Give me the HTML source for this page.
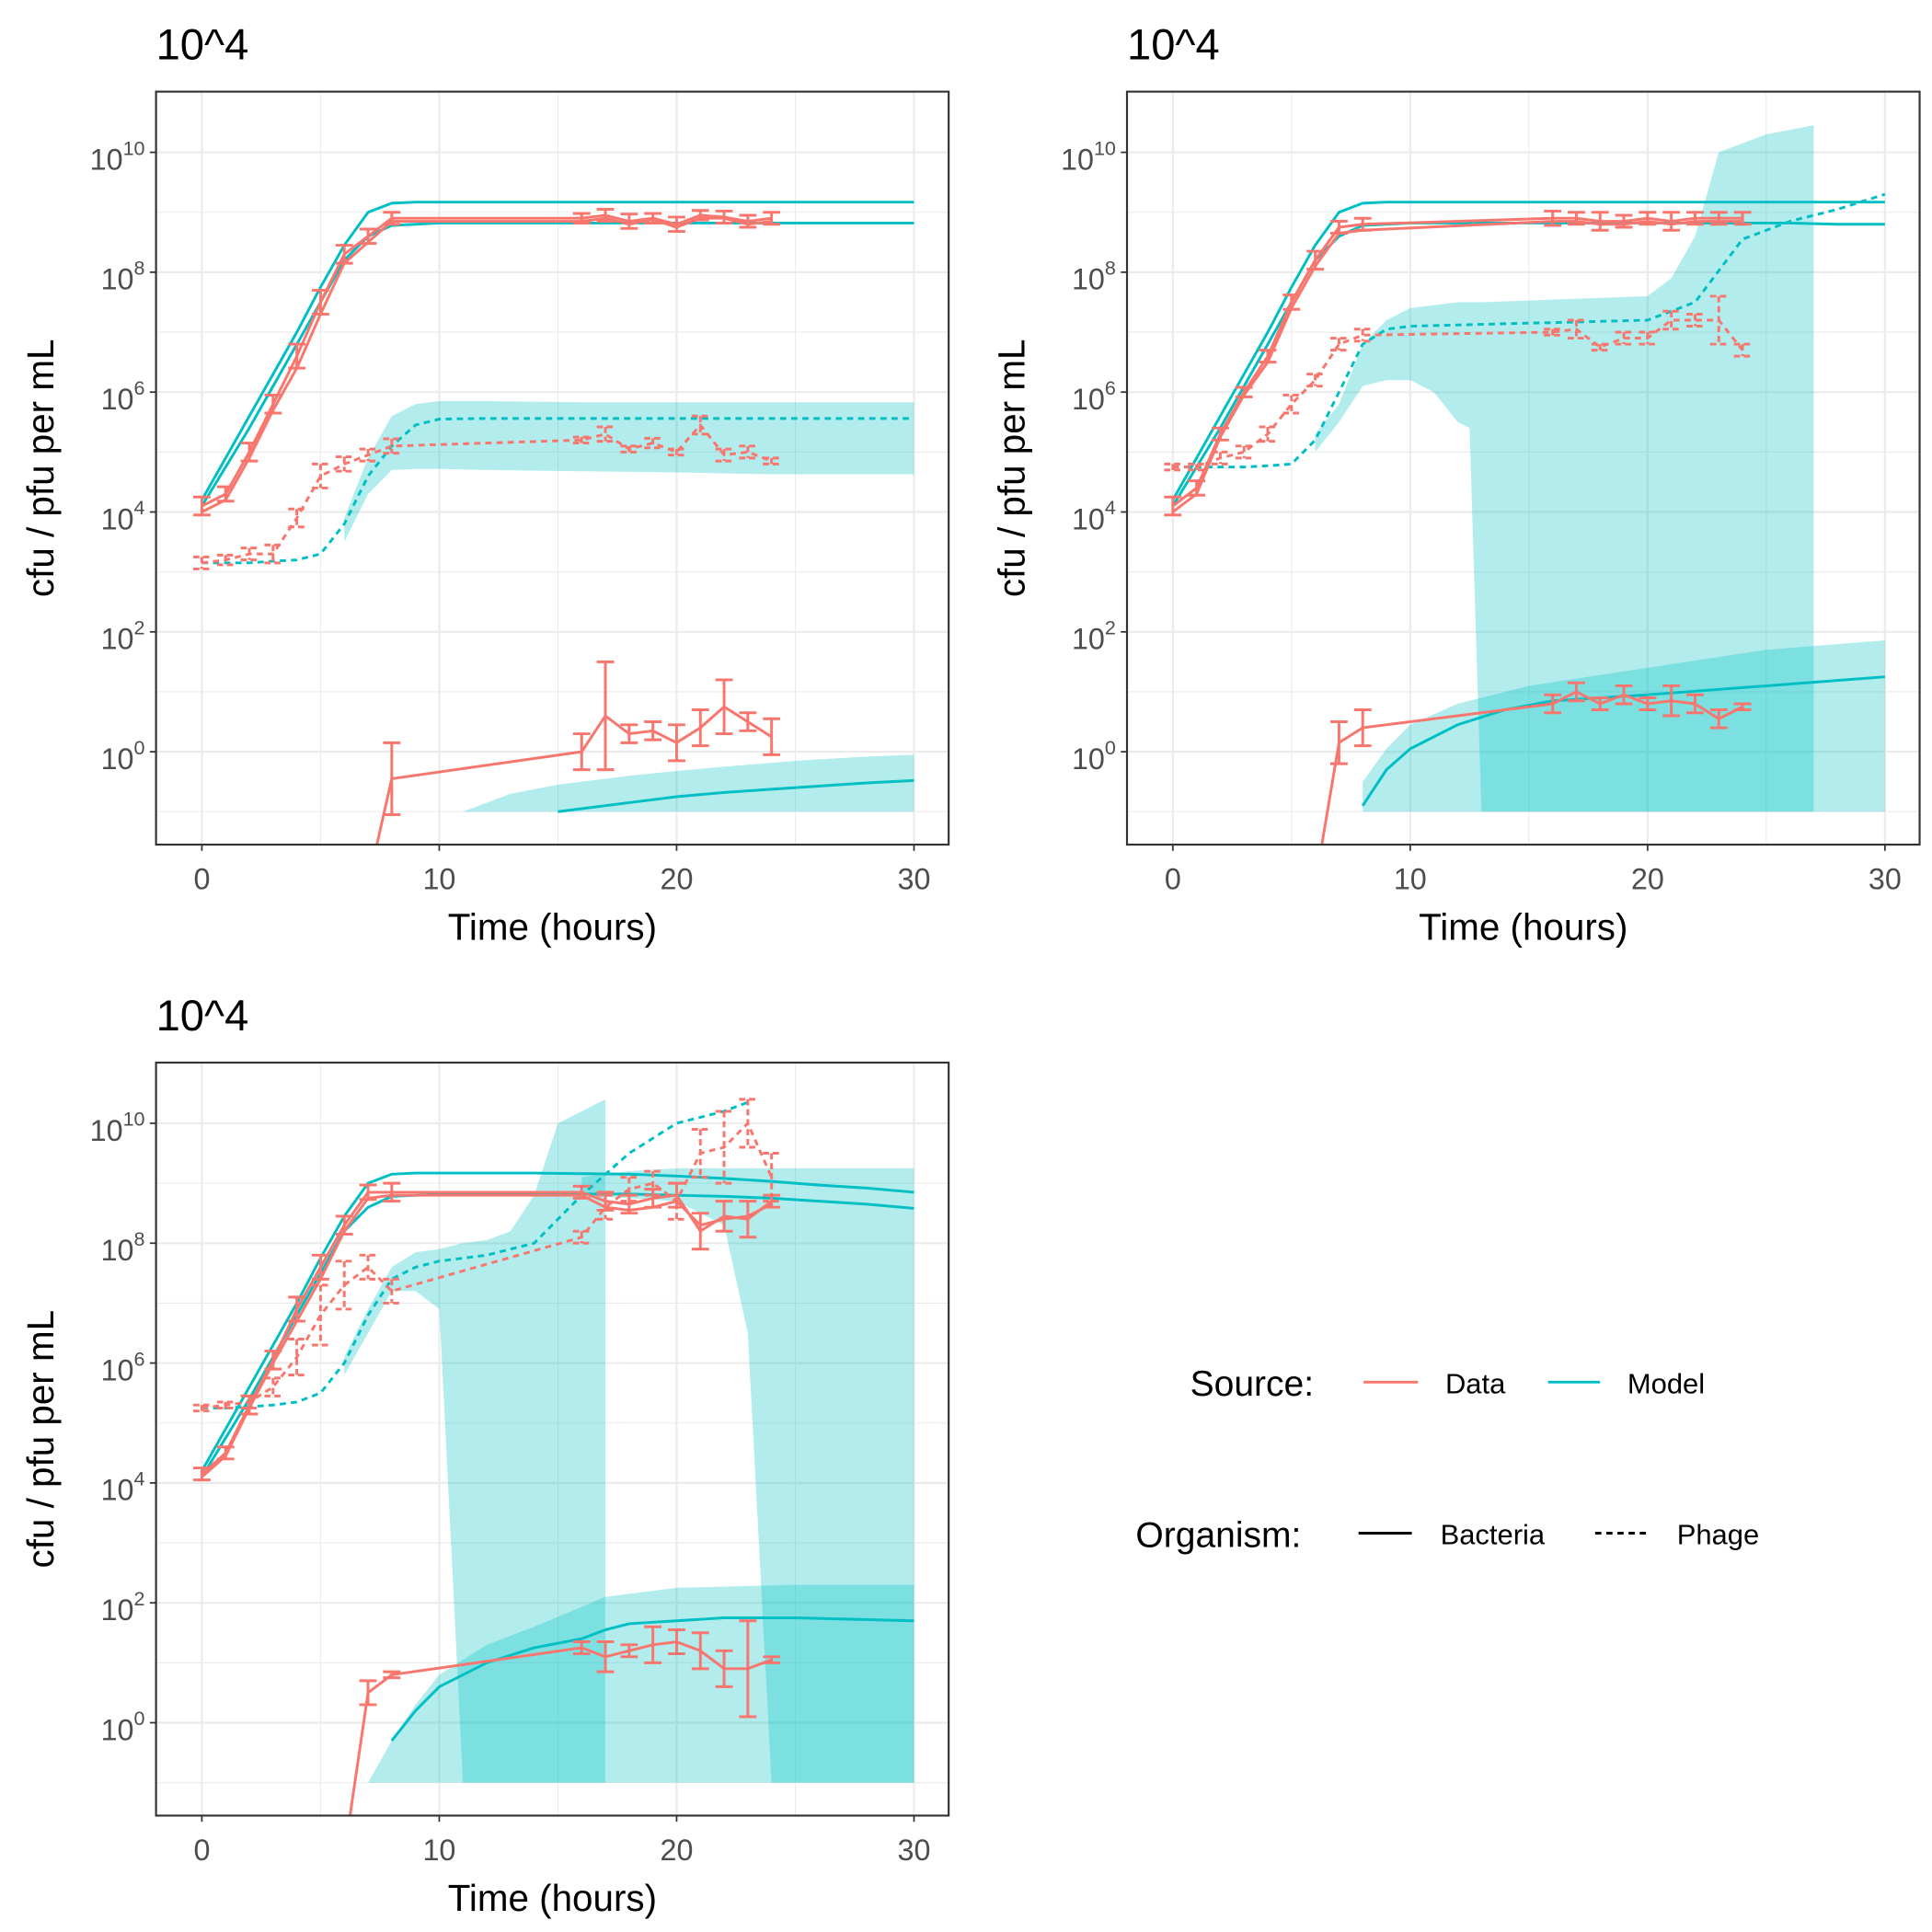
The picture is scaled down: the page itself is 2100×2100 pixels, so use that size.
<!DOCTYPE html>
<html><head><meta charset="utf-8">
<style>
html,body{margin:0;padding:0;background:#fff;}
svg{display:block;font-family:"Liberation Sans",Arial,sans-serif;}
</style></head>
<body>
<svg id="chart" width="2100" height="2100" viewBox="0 0 1560 1560" xmlns="http://www.w3.org/2000/svg">
<defs>
<clipPath id="clip0"><rect x="126" y="74" width="640" height="608"/></clipPath>
<clipPath id="clip1"><rect x="910" y="74" width="640" height="608"/></clipPath>
<clipPath id="clip2"><rect x="126" y="858" width="640" height="608"/></clipPath>
</defs>
<g id="legend">
<text x="961" y="1127" font-size="29" fill="#000">Source:</text>
<line x1="1101" y1="1116" x2="1145" y2="1116" stroke="#F8766D" stroke-width="2.2"/>
<text x="1167" y="1125" font-size="23" fill="#000">Data</text>
<line x1="1250" y1="1116" x2="1292" y2="1116" stroke="#00BFC4" stroke-width="2.2"/>
<text x="1314" y="1125" font-size="23" fill="#000">Model</text>
<text x="917" y="1249" font-size="29" fill="#000">Organism:</text>
<line x1="1097" y1="1238" x2="1140" y2="1238" stroke="#000" stroke-width="2.2"/>
<text x="1163" y="1247" font-size="23" fill="#000">Bacteria</text>
<line x1="1288" y1="1238" x2="1330" y2="1238" stroke="#000" stroke-width="2.2" stroke-dasharray="5 4"/>
<text x="1354" y="1247" font-size="23" fill="#000">Phage</text>
</g>
</svg>
<script>
// ---- shared axis data ----
const xTicks=[0,10,20,30];
const xMinor=[5,15,25];
const yTicks=[0,2,4,6,8,10];
const yMinor=[-1,1,3,5,7,9];
const dataT=[0,1,2,3,4,5,6,7,8,16,17,18,19,20,21,22,23,24];
const modelT=[0,1,2,3,4,5,6,7,8,9,10,12,14,16,18,20,22,24,26,28,30];

// ---- panel 1 ----
const p1BactData=[4.1,4.3,5.0,5.8,6.6,7.5,8.3,8.6,8.9,8.9,8.95,8.85,8.9,8.8,8.95,8.92,8.85,8.9];
const p1BactData2=[4.0,4.2,4.9,5.7,6.4,7.3,8.15,8.5,8.85,8.85,8.9,8.8,8.88,8.75,8.9,8.9,8.8,8.85];
const p1BactErr=[0.15,0.12,0.15,0.15,0.2,0.2,0.15,0.12,0.1,0.08,0.1,0.12,0.08,0.12,0.08,0.1,0.1,0.1];
const p1PhageData=[3.15,3.2,3.3,3.3,3.9,4.6,4.8,4.95,5.1,5.2,5.3,5.05,5.15,5.0,5.45,4.95,5.0,4.85];
const p1PhageErr=[0.1,0.08,0.1,0.15,0.15,0.2,0.12,0.1,0.12,0.05,0.12,0.05,0.08,0.05,0.15,0.1,0.1,0.05];
const p1ResT=[7,8,16,17,18,19,20,21,22,23,24];
const p1ResData=[-2.2,-0.45,0.0,0.6,0.3,0.35,0.15,0.4,0.75,0.5,0.25];
const p1ResErr=[0,0.6,0.3,0.9,0.15,0.15,0.3,0.3,0.45,0.15,0.3];
const p1BactModelHi=[4.2,4.9,5.6,6.3,7.0,7.75,8.45,9.0,9.15,9.17,9.17,9.17,9.17,9.17,9.17,9.17,9.17,9.17,9.17,9.17,9.17];
const p1BactModelLo=[4.1,4.75,5.4,6.1,6.8,7.5,8.2,8.6,8.78,8.8,8.82,8.82,8.82,8.82,8.82,8.82,8.82,8.82,8.82,8.82,8.82];
const p1PhageModel=[3.15,3.15,3.15,3.18,3.2,3.3,3.8,4.6,5.1,5.45,5.55,5.56,5.56,5.56,5.56,5.56,5.56,5.56,5.56,5.56,5.56];
const p1PhageRibT=[6,7,8,9,10,12,16,20,24,30];
const p1PhageRibLo=[3.5,4.3,4.7,4.72,4.72,4.7,4.68,4.66,4.63,4.63];
const p1PhageRibHi=[3.9,4.9,5.6,5.8,5.85,5.85,5.83,5.83,5.83,5.83];
const p1ResModelT=[15,18,20,22,25,28,30];
const p1ResModel=[-1,-0.85,-0.75,-0.68,-0.6,-0.52,-0.48];
const p1ResRibT=[11,13,15,18,20,22,25,28,30];
const p1ResRibHi=[-1,-0.7,-0.55,-0.4,-0.32,-0.25,-0.15,-0.08,-0.05];

// ---- panel 2 ----
const p2BactData=[4.1,4.4,5.3,6.0,6.6,7.5,8.2,8.75,8.8,8.9,8.9,8.85,8.85,8.9,8.85,8.9,8.9,8.9];
const p2BactData2=[4.0,4.3,5.25,5.95,6.5,7.4,8.1,8.65,8.7,8.85,8.85,8.8,8.8,8.85,8.8,8.85,8.85,8.85];
const p2BactErr=[0.15,0.12,0.1,0.08,0.1,0.12,0.15,0.1,0.1,0.12,0.1,0.15,0.1,0.1,0.15,0.1,0.1,0.1];
const p2PhageData=[4.75,4.75,4.9,5.0,5.3,5.8,6.2,6.8,6.95,7.0,7.05,6.75,6.9,6.9,7.2,7.2,7.2,6.7];
const p2PhageErr=[0.05,0.05,0.1,0.1,0.12,0.15,0.1,0.1,0.1,0.05,0.15,0.05,0.1,0.1,0.15,0.1,0.4,0.1];
const p2ResT=[7,8,16,17,18,19,20,21,22,23,24];
const p2ResData=[0.15,0.4,0.8,1.0,0.8,0.95,0.8,0.85,0.8,0.55,0.75];
const p2ResErr=[0.35,0.3,0.15,0.15,0.1,0.15,0.1,0.25,0.15,0.15,0.05];
const p2BactModelHi=[4.2,4.9,5.6,6.3,7.0,7.75,8.45,9.0,9.15,9.17,9.17,9.17,9.17,9.17,9.17,9.17,9.17,9.17,9.17,9.17,9.17];
const p2BactModelLo=[4.1,4.75,5.4,6.1,6.8,7.5,8.2,8.6,8.78,8.8,8.82,8.82,8.82,8.82,8.82,8.82,8.82,8.82,8.82,8.8,8.8];
const p2PhageModel=[4.75,4.75,4.75,4.75,4.77,4.8,5.2,6.0,6.8,7.05,7.1,7.12,7.14,7.16,7.18,7.2,7.5,8.55,8.85,9.05,9.3];
const p2PhageRibT=[6,7,8,9,10,11,12,12.5,13,20,21,22,23,25,27];
const p2PhageRibLo=[5.0,5.5,6.1,6.2,6.2,6.0,5.5,5.4,-1,-1,-1,-1,-1,-1,-1];
const p2PhageRibHi=[5.3,5.8,6.8,7.2,7.4,7.45,7.5,7.5,7.5,7.6,7.9,8.6,10.0,10.3,10.45];
const p2ResModelT=[8,9,10,12,14,16,20,25,30];
const p2ResModel=[-0.9,-0.3,0.05,0.45,0.7,0.85,0.95,1.1,1.25];
const p2ResRibT=[8,9,10,12,15,20,25,30];
const p2ResRibHi=[-0.5,0.05,0.45,0.8,1.1,1.4,1.7,1.86];

// ---- panel 3 ----
const p3BactData=[4.15,4.5,5.3,6.05,6.9,7.6,8.3,8.85,8.85,8.85,8.7,8.65,8.75,8.8,8.2,8.45,8.4,8.7];
const p3BactData2=[4.1,4.45,5.25,6.0,6.7,7.4,8.2,8.75,8.8,8.8,8.6,8.55,8.6,8.7,8.3,8.4,8.45,8.65];
const p3BactErr=[0.1,0.1,0.15,0.15,0.2,0.2,0.15,0.12,0.15,0.1,0.15,0.15,0.15,0.2,0.3,0.25,0.3,0.1];
const p3PhageData=[5.25,5.3,5.35,5.6,6.1,6.8,7.3,7.6,7.2,8.1,8.6,8.9,9.0,8.7,9.5,9.6,10.0,9.1];
const p3PhageErr=[0.05,0.05,0.1,0.15,0.3,0.5,0.4,0.2,0.2,0.1,0.2,0.2,0.2,0.3,0.4,0.6,0.4,0.4];
const p3ResT=[6,7,8,16,17,18,19,20,21,22,23,24];
const p3ResData=[-2.2,0.5,0.8,1.25,1.1,1.2,1.3,1.35,1.2,0.9,0.9,1.05];
const p3ResErr=[0,0.2,0.05,0.1,0.25,0.1,0.3,0.2,0.3,0.3,0.8,0.05];
const p3BactModelHi=[4.2,4.9,5.6,6.3,7.0,7.75,8.45,9.0,9.15,9.17,9.17,9.17,9.17,9.16,9.15,9.12,9.08,9.03,8.97,8.92,8.85];
const p3BactModelLo=[4.1,4.75,5.4,6.1,6.8,7.5,8.2,8.6,8.78,8.8,8.82,8.82,8.82,8.82,8.82,8.8,8.78,8.75,8.7,8.65,8.58];
const p3PhageModel=[5.25,5.25,5.27,5.3,5.35,5.5,6.0,6.8,7.4,7.6,7.7,7.8,8.0,8.8,9.5,10.0,10.2,10.35,null,null,null];
const p3PhageRibT=[6,7,8,9,10,11,12,13,14,15,17];
const p3PhageRibLo=[5.8,6.5,7.2,7.2,6.9,-1,-1,-1,-1,-1,-1];
const p3PhageRibHi=[6.1,6.9,7.6,7.85,7.9,8.0,8.05,8.2,8.8,10.0,10.4];
const p3BactRibT=[16,18,20,21,22,23,24,30];
const p3BactRibLo=[8.8,8.75,8.7,8.5,8.3,6.5,-1,-1];
const p3BactRibHi=[9.1,9.2,9.25,9.25,9.25,9.25,9.25,9.25];
const p3ResModelT=[8,9,10,12,14,16,17,18,20,22,25,30];
const p3ResModel=[-0.3,0.2,0.6,1.0,1.25,1.4,1.55,1.65,1.7,1.75,1.75,1.7];
const p3ResRibT=[7,8,9,10,12,14,17,20,25,30];
const p3ResRibHi=[-1,-0.3,0.3,0.8,1.3,1.6,2.1,2.25,2.3,2.3];

const RED="#F8766D", CYAN="#00BFC4";
const svg=document.getElementById('chart');
const NS="http://www.w3.org/2000/svg";
const SX=19.167, SY=48.4;

function mk(tag,parent){const e=document.createElementNS(NS,tag);parent.appendChild(e);return e;}

function makePanel(idx,x0,y0){
  const g=mk('g',svg);
  
  
  const P={x0:x0,y0:y0,g:g};
  P.px=t=>x0+SX*t; P.py=v=>y0-SY*v;
  const L=x0-37,R=x0+603,T=y0-533,B=y0+75;
  const bg=mk('rect',g);bg.setAttribute('x',L);bg.setAttribute('y',T);bg.setAttribute('width',640);bg.setAttribute('height',608);bg.setAttribute('fill','#fff');
  
  
  xMinor.forEach(t=>{const l=mk('line',g);l.setAttribute('x1',P.px(t));l.setAttribute('x2',P.px(t));l.setAttribute('y1',T);l.setAttribute('y2',B);l.setAttribute('stroke','#ebebeb');l.setAttribute('stroke-width',0.8);
    
    });
  yMinor.forEach(v=>{const l=mk('line',g);l.setAttribute('y1',P.py(v));l.setAttribute('y2',P.py(v));l.setAttribute('x1',L);l.setAttribute('x2',R);l.setAttribute('stroke','#ebebeb');l.setAttribute('stroke-width',0.8);
    
    });
  xTicks.forEach(t=>{const l=mk('line',g);l.setAttribute('x1',P.px(t));l.setAttribute('x2',P.px(t));l.setAttribute('y1',T);l.setAttribute('y2',B);l.setAttribute('stroke','#ebebeb');l.setAttribute('stroke-width',1.6);
    
    
    const k=mk('line',g);k.setAttribute('x1',P.px(t));k.setAttribute('x2',P.px(t));k.setAttribute('y1',B);k.setAttribute('y2',B+5);k.setAttribute('stroke','#333');k.setAttribute('stroke-width',1.3);
    
    
    const s=mk('text',g);s.setAttribute('x',P.px(t));s.setAttribute('y',B+36);s.setAttribute('text-anchor','middle');s.setAttribute('font-size','24');s.setAttribute('fill','#4d4d4d');s.textContent=t;
    
    });
  yTicks.forEach(v=>{const l=mk('line',g);l.setAttribute('y1',P.py(v));l.setAttribute('y2',P.py(v));l.setAttribute('x1',L);l.setAttribute('x2',R);l.setAttribute('stroke','#ebebeb');l.setAttribute('stroke-width',1.6);
    
    
    const k=mk('line',g);k.setAttribute('x1',L-5);k.setAttribute('x2',L);k.setAttribute('y1',P.py(v));k.setAttribute('y2',P.py(v));k.setAttribute('stroke','#333');k.setAttribute('stroke-width',1.3);
    
    
    const s=mk('text',g);s.setAttribute('text-anchor','end');s.setAttribute('fill','#4d4d4d');
    s.setAttribute('x',L-9);s.setAttribute('y',P.py(v)+14);
    
    
    const a=mk('tspan',s);a.setAttribute('font-size','24');a.textContent='10';
    const b=mk('tspan',s);b.setAttribute('dy','-12');b.setAttribute('font-size','16');b.textContent=v;});
  const cg=mk('g',g);cg.setAttribute('clip-path','url(#clip'+idx+')');
  
  
  P.c=cg;P.L=L;P.R=R;P.T=T;P.B=B;
  return P;
}
function finishPanel(P){
  const g=P.g;
  const f=mk('rect',g);f.setAttribute('x',P.L);f.setAttribute('y',P.T);f.setAttribute('width',640);f.setAttribute('height',608);f.setAttribute('fill','none');f.setAttribute('stroke','#333');f.setAttribute('stroke-width',1.6);
  
  
  const t=mk('text',g);t.setAttribute('x',P.L);t.setAttribute('y',P.T-26);t.setAttribute('font-size','35');t.textContent='10^4';
  
  
  const xt=mk('text',g);xt.setAttribute('x',(P.L+P.R)/2);xt.setAttribute('y',P.B+77);xt.setAttribute('text-anchor','middle');xt.setAttribute('font-size','30');xt.textContent='Time (hours)';
  
  
  const yt=mk('text',g);const cx=P.L-83,cy=(P.T+P.B)/2;yt.setAttribute('x',cx);yt.setAttribute('y',cy);yt.setAttribute('text-anchor','middle');yt.setAttribute('font-size','30');yt.setAttribute('transform','rotate(-90 '+cx+' '+cy+')');yt.textContent='cfu / pfu per mL';
  
  
}
function pathLine(P,ts,vs,color,dashed,name){
  let d='';let pen=false;
  ts.forEach((t,i)=>{const v=vs[i];if(v===null||v===undefined){pen=false;return;}d+=(pen?'L':'M')+P.px(t).toFixed(1)+' '+P.py(v).toFixed(1);pen=true;});
  const p=mk('path',P.c);p.setAttribute('d',d);p.setAttribute('fill','none');p.setAttribute('stroke',color);p.setAttribute('stroke-width',2.2);
  if(dashed)p.setAttribute('stroke-dasharray','5 4');
  
  
}
function ribbon(P,ts,lo,hi,name){
  let d='';
  ts.forEach((t,i)=>{d+=(i?'L':'M')+P.px(t).toFixed(1)+' '+P.py(hi[i]).toFixed(1);});
  for(let i=ts.length-1;i>=0;i--){d+='L'+P.px(ts[i]).toFixed(1)+' '+P.py(lo[i]).toFixed(1);}
  d+='Z';
  const p=mk('path',P.c);p.setAttribute('d',d);p.setAttribute('fill',CYAN);p.setAttribute('fill-opacity','0.3');
  
  
}
function errbars(P,ts,vs,es,dashed,name){
  ts.forEach((t,i)=>{
    if(!es[i])return;
    const x=P.px(t),y1=P.py(vs[i]+es[i]),y2=P.py(vs[i]-es[i]);
    const p=mk('path',P.c);
    p.setAttribute('d','M'+(x-7)+' '+y1+'H'+(x+7)+'M'+x+' '+y1+'V'+y2+'M'+(x-7)+' '+y2+'H'+(x+7));
    p.setAttribute('fill','none');p.setAttribute('stroke',RED);p.setAttribute('stroke-width',2.2);
    if(dashed)p.setAttribute('stroke-dasharray','5 3');
    
    
  });
}
function floorArr(ts){return ts.map(()=>-1);}

// Panel 1
const P1=makePanel(0,163,607);
ribbon(P1,p1PhageRibT,p1PhageRibLo,p1PhageRibHi,'phage-model-ribbon');
ribbon(P1,p1ResRibT,floorArr(p1ResRibT),p1ResRibHi,'resistant-model-ribbon');
pathLine(P1,modelT,p1BactModelHi,CYAN,false,'bacteria-model-upper');
pathLine(P1,modelT,p1BactModelLo,CYAN,false,'bacteria-model-lower');
pathLine(P1,modelT,p1PhageModel,CYAN,true,'phage-model-line');
pathLine(P1,p1ResModelT,p1ResModel,CYAN,false,'resistant-model-line');
pathLine(P1,dataT,p1BactData,RED,false,'bacteria-data-line');
pathLine(P1,dataT,p1BactData2,RED,false,'bacteria-data-line-2');
errbars(P1,dataT,p1BactData,p1BactErr,false,'bacteria-error-bar');
pathLine(P1,dataT,p1PhageData,RED,true,'phage-data-line');
errbars(P1,dataT,p1PhageData,p1PhageErr,true,'phage-error-bar');
pathLine(P1,p1ResT,p1ResData,RED,false,'resistant-data-line');
errbars(P1,p1ResT,p1ResData,p1ResErr,false,'resistant-error-bar');
finishPanel(P1);

// Panel 2
const P2=makePanel(1,947,607);
ribbon(P2,p2PhageRibT,p2PhageRibLo,p2PhageRibHi,'phage-model-ribbon');
ribbon(P2,p2ResRibT,floorArr(p2ResRibT),p2ResRibHi,'resistant-model-ribbon');
pathLine(P2,modelT,p2BactModelHi,CYAN,false,'bacteria-model-upper');
pathLine(P2,modelT,p2BactModelLo,CYAN,false,'bacteria-model-lower');
pathLine(P2,modelT,p2PhageModel,CYAN,true,'phage-model-line');
pathLine(P2,p2ResModelT,p2ResModel,CYAN,false,'resistant-model-line');
pathLine(P2,dataT,p2BactData,RED,false,'bacteria-data-line');
pathLine(P2,dataT,p2BactData2,RED,false,'bacteria-data-line-2');
errbars(P2,dataT,p2BactData,p2BactErr,false,'bacteria-error-bar');
pathLine(P2,dataT,p2PhageData,RED,true,'phage-data-line');
errbars(P2,dataT,p2PhageData,p2PhageErr,true,'phage-error-bar');
pathLine(P2,[6].concat(p2ResT),[-2.2].concat(p2ResData),RED,false,'resistant-data-line');
errbars(P2,p2ResT,p2ResData,p2ResErr,false,'resistant-error-bar');
finishPanel(P2);

// Panel 3
const P3=makePanel(2,163,1391);
ribbon(P3,p3PhageRibT,p3PhageRibLo,p3PhageRibHi,'phage-model-ribbon');
ribbon(P3,p3BactRibT,p3BactRibLo,p3BactRibHi,'bacteria-model-ribbon');
ribbon(P3,p3ResRibT,floorArr(p3ResRibT),p3ResRibHi,'resistant-model-ribbon');
pathLine(P3,modelT,p3BactModelHi,CYAN,false,'bacteria-model-upper');
pathLine(P3,modelT,p3BactModelLo,CYAN,false,'bacteria-model-lower');
pathLine(P3,modelT.slice(0,17).concat([23]),p3PhageModel.slice(0,17).concat([10.35]),CYAN,true,'phage-model-line');
pathLine(P3,p3ResModelT,p3ResModel,CYAN,false,'resistant-model-line');
pathLine(P3,dataT,p3BactData,RED,false,'bacteria-data-line');
pathLine(P3,dataT,p3BactData2,RED,false,'bacteria-data-line-2');
errbars(P3,dataT,p3BactData,p3BactErr,false,'bacteria-error-bar');
pathLine(P3,dataT,p3PhageData,RED,true,'phage-data-line');
errbars(P3,dataT,p3PhageData,p3PhageErr,true,'phage-error-bar');
pathLine(P3,p3ResT,p3ResData,RED,false,'resistant-data-line');
errbars(P3,p3ResT,p3ResData,p3ResErr,false,'resistant-error-bar');
finishPanel(P3);
</script>
</body></html>
